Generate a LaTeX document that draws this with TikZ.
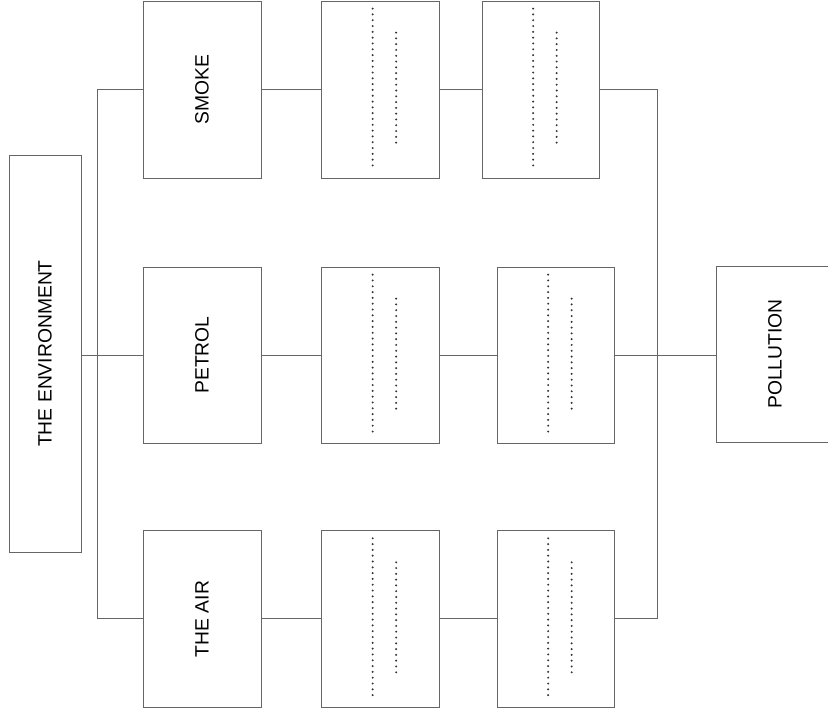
\documentclass[tikz,border=0pt]{standalone}
\usepackage{fontspec}
\setmainfont{Liberation Sans}
\usetikzlibrary{calc}
\tikzset{
  box/.style={draw=black!60, line width=0.7pt, rectangle, inner sep=0pt, fill=none,
              font=\fontsize{19.3}{23}\selectfont},
  link/.style={draw=black!60, line width=0.7pt},
  dotmark/.style={fill=black!80}
}
\newcommand\dotpair[1]{%
  \foreach \i in {0,...,27} \fill[dotmark] ($(#1.north west)+(51.5,8+\i*5.81)$) circle (1.1pt);
  \foreach \i in {0,...,19} \fill[dotmark] ($(#1.north west)+(75,32+\i*5.79)$) circle (1.1pt);
}
\begin{document}
\begin{tikzpicture}[x=1pt,y=-1pt]
\useasboundingbox (0,0) rectangle (828,718);
\clip (0,0) rectangle (828,718);
\fill[white] (0,0) rectangle (828,718);

% main boxes
\node[box, minimum width=72pt, minimum height=397pt] (env) at (45,353.5) {\rotatebox{90}{THE ENVIRONMENT}};

\node[box, minimum width=118pt, minimum height=177.7pt] (smoke) at (202,89.8) {\rotatebox{90}{SMOKE}};
\node[box, minimum width=118pt, minimum height=176pt] (petrol) at (202,355) {\rotatebox{90}{PETROL}};
\node[box, minimum width=118pt, minimum height=176.8pt] (air) at (202,619) {\rotatebox{90}{THE AIR}};

\node[box, minimum width=117.5pt, minimum height=177.7pt] (s2) at (380.25,89.8) {};
\node[box, minimum width=117.5pt, minimum height=176pt] (p2) at (380.25,355) {};
\node[box, minimum width=117.5pt, minimum height=176.8pt] (a2) at (380.25,619) {};

\node[box, minimum width=117.3pt, minimum height=177.7pt] (s3) at (540.65,89.8) {};
\node[box, minimum width=117pt, minimum height=176pt] (p3) at (555.5,355) {};
\node[box, minimum width=117pt, minimum height=176.8pt] (a3) at (555.5,619) {};

\node[box, minimum width=116.3pt, minimum height=176pt] (poll) at (774.85,354) {\rotatebox{90}{POLLUTION}};

% dotted placeholder lines
\dotpair{s2}
\dotpair{p2}
\dotpair{a2}
\dotpair{s3}
\dotpair{p3}
\dotpair{a3}

% connectors
\coordinate (ltop) at (97,89);
\coordinate (lbot) at (97,618);
\coordinate (rtop) at (657.7,89);
\coordinate (rbot) at (657.7,618);

\draw[link] (env.east |- petrol.west) -- (petrol.west);
\draw[link] (smoke.west |- ltop) -- (ltop) -- (lbot) -- (air.west |- lbot);

\draw[link] (smoke.east |- ltop) -- (s2.west |- ltop);
\draw[link] (s2.east |- ltop) -- (s3.west |- ltop);
\draw[link] (s3.east |- ltop) -- (rtop) -- (rbot) -- (a3.east |- rbot);

\draw[link] (petrol.east) -- (p2.west);
\draw[link] (p2.east) -- (p3.west);
\draw[link] (p3.east) -- (poll.west |- p3.east);

\draw[link] (air.east |- lbot) -- (a2.west |- lbot);
\draw[link] (a2.east |- lbot) -- (a3.west |- lbot);
\end{tikzpicture}
\end{document}
